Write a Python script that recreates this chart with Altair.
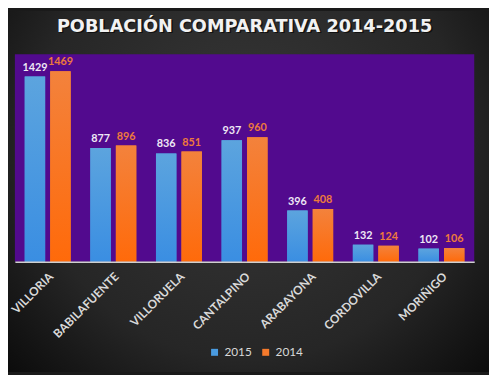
import altair as alt
import pandas as pd

municipios = ["VILLORIA", "BABILAFUENTE", "VILLORUELA", "CANTALPINO", "ARABAYONA", "CORDOVILLA", "MORIÑIGO"]
p2015 = [1429, 877, 836, 937, 396, 132, 102]
p2014 = [1469, 896, 851, 960, 408, 124, 106]
series = ["2015", "2014"]
titulo = "POBLACIÓN COMPARATIVA 2014-2015"

rows = []
for m, a, b in zip(municipios, p2015, p2014):
    rows.append({"municipio": m, "serie": "2015", "valor": a})
    rows.append({"municipio": m, "serie": "2014", "valor": b})
df = pd.DataFrame(rows)

W, H = 467, 211
FONT = "Lato"

x = alt.X("municipio:N", sort=municipios, title=None,
          scale=alt.Scale(paddingInner=0.3, paddingOuter=0.15),
          axis=alt.Axis(labelAngle=315, labelAlign="right", labelBaseline="top",
                        labelPadding=9, labelColor="#D9D9D9", labelFont=FONT,
                        labelFontSize=12, labelFontWeight="bold", ticks=False,
                        domainColor="#D0D0D0", domainWidth=1.5, zindex=1))
xo = alt.XOffset("serie:N", sort=series, scale=alt.Scale(domain=series, paddingInner=0.2))
y = alt.Y("valor:Q", scale=alt.Scale(domain=[0, 1600]), axis=None)

bg = alt.Chart(alt.Data(values=[{"a": 1}])).mark_rect(
    color={"gradient": "radial", "x1": 0.5, "y1": 0.4, "r1": 0,
           "x2": 0.5, "y2": 0.4, "r2": 0.75,
           "stops": [{"offset": 0, "color": "#383838"},
                     {"offset": 0.6, "color": "#262626"},
                     {"offset": 1, "color": "#050505"}]}
).encode(x=alt.value(-7), x2=alt.value(W + 15), y=alt.value(-44), y2=alt.value(H + 112))

plot_bg = alt.Chart(alt.Data(values=[{"a": 1}])).mark_rect(color="#520A8E").encode(
    x=alt.value(0), x2=alt.value(W), y=alt.value(0), y2=alt.value(H))

title_shadow = alt.Chart(alt.Data(values=[{"t": titulo}])).mark_text(
    font="DejaVu Sans", fontSize=18, fontWeight="bold", color="#000000", opacity=0.6,
    align="center", baseline="alphabetic"
).encode(x=alt.value(W / 2 + 1.5), y=alt.value(-21.5), text="t:N")

title = alt.Chart(alt.Data(values=[{"t": titulo}])).mark_text(
    font="DejaVu Sans", fontSize=18, fontWeight="bold", color="#F2F2F2",
    align="center", baseline="alphabetic"
).encode(x=alt.value(W / 2), y=alt.value(-23), text="t:N")

base = alt.Chart(df)
bars = base.mark_bar().encode(
    x=x, xOffset=xo, y=y,
    color=alt.Color("serie:N", sort=series,
                    scale=alt.Scale(domain=series, range=["#4A9BE0", "#F57A2C"]),
                    legend=alt.Legend(title=None, orient="none", direction="horizontal",
                                      legendX=197, legendY=297, symbolType="square",
                                      symbolSize=50, labelColor="#D9D9D9",
                                      labelFont=FONT, labelFontSize=12,
                                      columnPadding=8, symbolStrokeWidth=0)))

blue_grad = {"gradient": "linear", "x1": 0, "y1": 0, "x2": 0, "y2": 1,
             "stops": [{"offset": 0, "color": "#5CA4DE"}, {"offset": 1, "color": "#3A8EE2"}]}
orange_grad = {"gradient": "linear", "x1": 0, "y1": 0, "x2": 0, "y2": 1,
               "stops": [{"offset": 0, "color": "#F3823C"}, {"offset": 1, "color": "#FF6A0A"}]}

bars_b = base.transform_filter(alt.datum.serie == "2015").mark_bar(color=blue_grad).encode(x=x, xOffset=xo, y=y)
bars_o = base.transform_filter(alt.datum.serie == "2014").mark_bar(color=orange_grad).encode(x=x, xOffset=xo, y=y)

labels = base.mark_text(dy=-4, baseline="bottom", font=FONT, fontSize=11, fontWeight="bold").encode(
    x=x, xOffset=xo, y=y, text="valor:Q",
    fill=alt.condition(alt.datum.serie == "2015", alt.value("#EEE8F5"), alt.value("#EE7A3C")))

chart = alt.layer(bg, plot_bg, bars, bars_b, bars_o, labels, title_shadow, title).properties(
    width=W, height=H,
    autosize=alt.AutoSizeParams(type="none"),
    padding={"left": 7, "top": 44, "right": 15, "bottom": 112},
    background="#1a1a1a",
).configure_view(stroke=None, fill=None).configure(font=FONT)

chart.save("out.html", embed_options={"renderer": "svg", "actions": False})
